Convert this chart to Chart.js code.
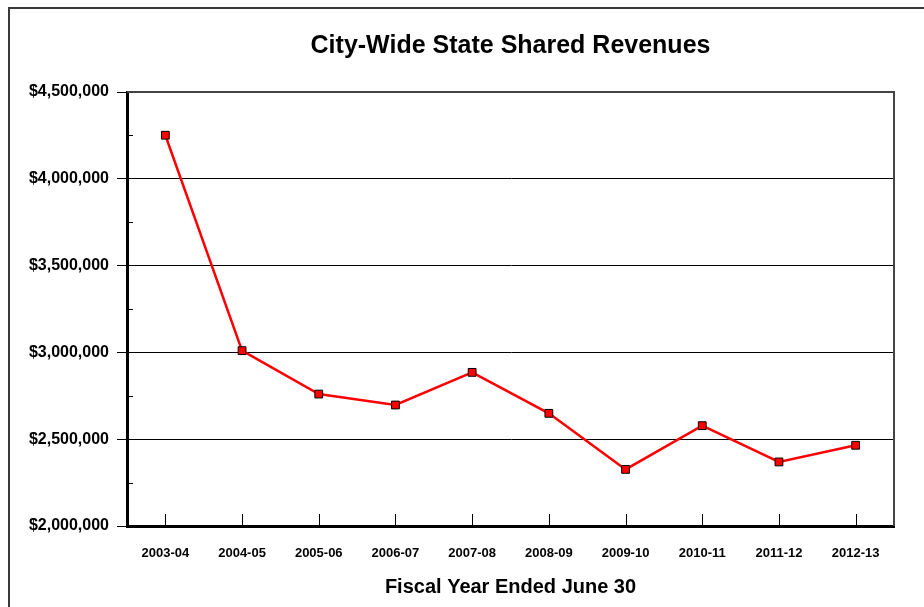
<!DOCTYPE html>
<html>
<head>
<meta charset="utf-8">
<script src="https://cdn.jsdelivr.net/npm/chart.js@4"></script>
<style>
  html, body { margin: 0; padding: 0; background: #fff; }
  #wrap { width: 924px; height: 607px; position: relative; }
</style>
</head>
<body>
<div id="wrap"><canvas id="chart" width="924" height="607"></canvas></div>
<script>
const fiscalYears = ['2003-04', '2004-05', '2005-06', '2006-07', '2007-08',
                     '2008-09', '2009-10', '2010-11', '2011-12', '2012-13'];
const revenues = [4251000, 3010000, 2760000, 2697000, 2885000,
                  2649000, 2326000, 2578000, 2369000, 2465000];
const yMin = 2000000;
const yMax = 4500000;
const yStep = 500000;

const fontFamily = '"Liberation Sans", Arial, sans-serif';
const money = v => '$' + v.toLocaleString('en-US');

// frame, minor ticks and inward category ticks
const decorations = {
    id: 'decorations',
    beforeDraw(chart) {
        const ctx = chart.ctx;
        ctx.save();
        ctx.strokeStyle = '#3a3a3a';
        ctx.lineWidth = 2;
        ctx.strokeRect(9, 8, 1000, 1000);
        ctx.restore();
    },
    afterDraw(chart) {
        const ctx = chart.ctx;
        const area = chart.chartArea;
        const x = chart.scales.x;
        const y = chart.scales.y;
        ctx.save();
        ctx.strokeStyle = '#000';
        ctx.lineWidth = 1;
        ctx.beginPath();
        for (let v = yMin + yStep / 2; v < yMax; v += yStep) {
            const py = Math.round(y.getPixelForValue(v)) + 0.5;
            ctx.moveTo(area.left, py);
            ctx.lineTo(area.left + 6, py);
        }
        fiscalYears.forEach((_, i) => {
            const px = Math.round(x.getPixelForValue(i)) + 0.5;
            ctx.moveTo(px, area.bottom);
            ctx.lineTo(px, area.bottom - 12);
        });
        ctx.stroke();
        // top and right edges of the plot box
        ctx.strokeStyle = '#444';
        ctx.lineWidth = 2;
        ctx.beginPath();
        ctx.moveTo(area.left, area.top);
        ctx.lineTo(area.right, area.top);
        ctx.lineTo(area.right, area.bottom);
        ctx.stroke();
        ctx.restore();
    }
};

new Chart(document.getElementById('chart'), {
    type: 'line',
    data: {
        labels: fiscalYears,
        datasets: [{
            label: 'State Shared Revenues',
            data: revenues,
            borderColor: '#ff0000',
            borderWidth: 2.5,
            backgroundColor: '#ff0000',
            pointStyle: 'rect',
            pointRadius: 5.5,
            pointBorderColor: '#000',
            pointBorderWidth: 1,
            pointBackgroundColor: '#ff0000',
            tension: 0
        }]
    },
    options: {
        responsive: false,
        animation: false,
        layout: { padding: { left: 0, right: 30, top: 0, bottom: 0 } },
        plugins: {
            legend: { display: false },
            tooltip: { enabled: false },
            title: {
                display: true,
                fullSize: false,   // centre over the plot, not the whole canvas
                text: 'City-Wide State Shared Revenues',
                color: '#000',
                font: { family: fontFamily, size: 25, weight: 'bold' },
                padding: { top: 31, bottom: 31 }
            }
        },
        scales: {
            x: {
                offset: true,
                afterFit: s => { s.height = 81; },
                grid: { display: true, drawOnChartArea: false, drawTicks: false },
                border: { display: true, color: '#000', width: 3 },
                ticks: {
                    color: '#000',
                    padding: 20,
                    maxRotation: 0,
                    font: { family: fontFamily, size: 13, weight: 'bold' }
                },
                title: {
                    display: true,
                    text: 'Fiscal Year Ended June 30',
                    color: '#000',
                    font: { family: fontFamily, size: 20, weight: 'bold' },
                    padding: { top: 0, bottom: 8 }
                }
            },
            y: {
                min: yMin,
                max: yMax,
                afterFit: s => { s.width = 127; },
                grid: { color: '#000', lineWidth: 1, tickLength: 10, drawTicks: true },
                border: { display: true, color: '#000', width: 3 },
                ticks: {
                    stepSize: yStep,
                    color: '#000',
                    padding: 8,
                    callback: v => money(v),
                    font: { family: fontFamily, size: 16, weight: 'bold' }
                }
            }
        }
    },
    plugins: [decorations]
});
</script>
</body>
</html>
